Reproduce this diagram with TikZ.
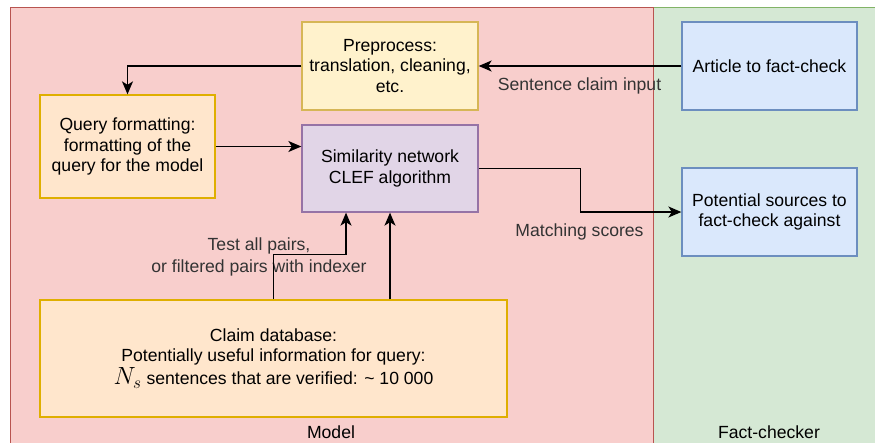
\documentclass[tikz,border=0pt]{standalone}
\usepackage{fontspec}
\setmainfont{Liberation Sans}
\usetikzlibrary{arrows.meta,positioning}
\definecolor{pinkF}{HTML}{F8CECC}\definecolor{pinkD}{HTML}{B85450}
\definecolor{greenF}{HTML}{D5E8D4}\definecolor{greenD}{HTML}{82B366}
\definecolor{yelF}{HTML}{FFF2CC}\definecolor{yelD}{HTML}{D6B656}
\definecolor{oraF}{HTML}{FFE6CC}\definecolor{oraD}{HTML}{D79B00}
\definecolor{purF}{HTML}{E1D5E7}\definecolor{purD}{HTML}{9673A6}
\definecolor{bluF}{HTML}{DAE8FC}\definecolor{bluD}{HTML}{6C8EBF}
\definecolor{lbl}{HTML}{333333}
\tikzset{
  box/.style={draw, line width=1.3pt, inner sep=0pt, align=center,
    font=\fontsize{17.6}{20.5}\selectfont},
  yelbox/.style={box, fill=yelF, draw=yelD},
  orabox/.style={box, fill=oraF, draw=oraD!80!yellow},
  purbox/.style={box, fill=purF, draw=purD},
  blubox/.style={box, fill=bluF, draw=bluD},
  arr/.style={line width=1.5pt, -{Stealth[length=13pt,width=11pt,inset=3.5pt]}},
  lab/.style={text=lbl, align=center, inner sep=0pt, font=\fontsize{17.6}{22}\selectfont},
  title/.style={text=black, inner sep=0pt, font=\fontsize{17.6}{20}\selectfont},
}
\begin{document}
\begin{tikzpicture}[x=1pt,y=-1pt]
\useasboundingbox (0,0) rectangle (875,442);
\begin{scope}
\clip (0,0) rectangle (875,442);
\fill[white] (0,0) rectangle (875,442);
\draw[fill=greenF, draw=greenD, line width=1pt] (653,7) rectangle (890,460);
\draw[fill=pinkF, draw=pinkD, line width=1pt] (10.5,7) rectangle (653,460);
\end{scope}
\node[title] (model) at (331,432) {Model};
\node[title] (fc) at (769,432) {Fact-checker};

\node[yelbox, minimum width=176pt, minimum height=88pt] (pre) at (390,66)
  {Preprocess:\\translation, cleaning,\\etc.};
\node[orabox, minimum width=175pt, minimum height=103pt] (query) at (127.5,146.5)
  {Query formatting:\\formatting of the\\query for the model};
\node[purbox, minimum width=176pt, minimum height=87pt] (sim) at (390,168.5)
  {Similarity network\\CLEF algorithm};
\node[blubox, minimum width=175pt, minimum height=88pt] (art) at (769.5,66)
  {Article to fact-check};
\node[blubox, minimum width=175pt, minimum height=88pt] (pot) at (769.5,212)
  {Potential sources to\\fact-check against};
\node[orabox, minimum width=467pt, minimum height=117pt] (claim) at (273.5,358.5)
  {Claim database:\\Potentially useful information for query:\\[1pt]{\fontsize{23}{20}\selectfont$N_s$} sentences that are verified: \textasciitilde{} 10 000};

\node[lab] (l1) at (579.5,86) {Sentence claim input};
\node[lab] (l2) at (579.5,232) {Matching scores};
\node[lab] (l3) at (259,257) {Test all pairs,\\or filtered pairs with indexer};

\draw[arr] (art.west) -- (pre.east);
\draw[arr] (pre.west) -| (query.north);
\draw[arr] (query.east) -- (sim.west |- query.east);
\draw[arr] (sim.east) -- ++(102,0) |- (pot.west);
\draw[arr] (claim.north) -- ++(0,-45) -| ([xshift=-44pt]sim.south);
\draw[arr] (sim.south |- claim.north) -- (sim.south);
\end{tikzpicture}
\end{document}
